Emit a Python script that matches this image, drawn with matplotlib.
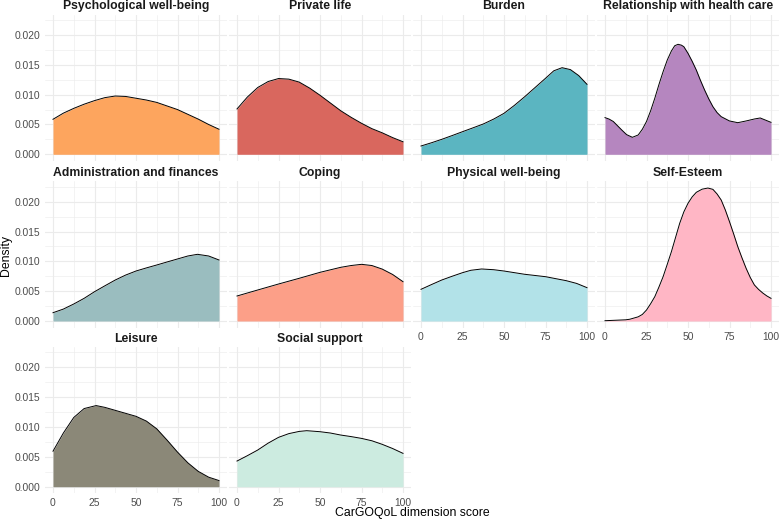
import numpy as np
import matplotlib
matplotlib.use("Agg")
import matplotlib.pyplot as plt
from matplotlib.ticker import FormatStrFormatter

plt.rcParams['font.family'] = ['Liberation Sans', 'DejaVu Sans']

# density curves (x = score, y = density)
psych_x = [0, 6.25, 12.5, 18.75, 25, 31.25, 37.5, 43.75, 50, 56.25, 62.5, 68.75, 75, 81.25, 87.5, 93.75, 100]
psych_y = [0.00587, 0.0069, 0.0077, 0.0084, 0.0090, 0.0095, 0.00977, 0.0097, 0.0094, 0.0091, 0.0087,
           0.0081, 0.0075, 0.0067, 0.0059, 0.0050, 0.0042]

private_x = [0, 6.25, 12.5, 18.75, 25, 31.25, 37.5, 43.75, 50, 56.25, 62.5, 68.75, 75, 81.25, 87.5, 93.75, 100]
private_y = [0.0076, 0.0096, 0.0112, 0.0122, 0.0127, 0.0126, 0.0121, 0.0111, 0.0099, 0.0086, 0.0073,
             0.0062, 0.0052, 0.0043, 0.0036, 0.0028, 0.0021]

burden_x = [0, 6.25, 12.5, 18.75, 25, 31.25, 37.5, 43.75, 50, 56.25, 62.5, 68.75, 75, 80, 85, 90, 95, 100]
burden_y = [0.00139, 0.00193, 0.00251, 0.00314, 0.00379, 0.00443, 0.00508, 0.0059, 0.00687, 0.0082,
            0.00966, 0.0112, 0.01274, 0.0140, 0.01452, 0.0142, 0.0132, 0.01173]

relation_x = [0, 2.5, 5, 7.5, 10, 13, 16.5, 20, 22.5, 25, 27.5, 30, 32.5, 35, 37.5, 40, 42, 44, 46, 47.5,
              50, 52.5, 55, 57.5, 60, 62.5, 65, 67.5, 70, 75, 80, 85, 90, 93.5, 100]
relation_y = [0.00615, 0.0059, 0.0055, 0.0048, 0.0041, 0.0033, 0.00285, 0.00324, 0.0042, 0.0055, 0.0073,
              0.0094, 0.0117, 0.01385, 0.0158, 0.01732, 0.0182, 0.01844, 0.0183, 0.01804,
              0.01693, 0.0156, 0.01413, 0.0124, 0.01078, 0.0093, 0.00799, 0.0070, 0.00631, 0.00559,
              0.0053, 0.00559, 0.00592, 0.00609, 0.00536]

admin_x = [0, 6.25, 12.5, 18.75, 25, 31.25, 37.5, 43.75, 50, 56.25, 62.5, 68.75, 75, 81.25, 87, 93.75, 100]
admin_y = [0.00139, 0.0020, 0.00285, 0.0038, 0.00491, 0.0059, 0.00687, 0.0077, 0.00838, 0.0089, 0.00939,
           0.0099, 0.0104, 0.0109, 0.01118, 0.0109, 0.01023]

coping_x = [0, 12.5, 25, 37.5, 50, 62.5, 68.75, 75, 81.25, 87.5, 93.75, 100]
coping_y = [0.00419, 0.0052, 0.0062, 0.00716, 0.00816, 0.009, 0.0093, 0.0095, 0.0093, 0.0087, 0.0078, 0.00659]

physical_x = [0, 6.25, 12.5, 18.75, 25, 30, 36.5, 43.75, 50, 62.5, 75, 87.5, 93.75, 100]
physical_y = [0.00531, 0.0061, 0.00687, 0.0075, 0.0081, 0.0085, 0.00872, 0.0086, 0.00838, 0.00783,
              0.00743, 0.00676, 0.0063, 0.00559]

esteem_x = [0, 12.5, 15, 20, 22.5, 25, 27.5, 30, 32.5, 35, 37.5, 40, 42.5, 45, 47.5, 50, 52.5, 55, 58.5,
            62, 65, 67.5, 70, 72.5, 75, 77.5, 80, 82.5, 85, 87.5, 90, 92.5, 95, 97.5, 100]
esteem_y = [0.00005, 0.0002, 0.0003, 0.0007, 0.0011, 0.00184, 0.0029, 0.00408, 0.0057, 0.00743, 0.0095,
            0.01162, 0.0140, 0.01638, 0.0183, 0.01973, 0.0208, 0.02157, 0.0221,
            0.02229, 0.02207, 0.0213, 0.02028, 0.0186, 0.01665, 0.0146, 0.01246, 0.0106, 0.00884,
            0.0073, 0.00604, 0.0053, 0.0047, 0.0042, 0.0038]

leisure_x = [0, 6.25, 12.5, 18.75, 26, 31.25, 37.5, 43.75, 50, 56.25, 62.5, 68.75, 75, 81.25, 87.5, 93.75, 100]
leisure_y = [0.00595, 0.0090, 0.0116, 0.0131, 0.0136, 0.0133, 0.0128, 0.0123, 0.0118, 0.0110, 0.0097,
             0.0078, 0.0058, 0.0040, 0.00257, 0.0016, 0.00103]

social_x = [0, 6.25, 12.5, 18.75, 25, 31.25, 37.5, 42, 50, 56.25, 62.5, 68.75, 75, 81.25, 87.5, 93.75, 100]
social_y = [0.0043, 0.0052, 0.00615, 0.0073, 0.00827, 0.0089, 0.00927, 0.00939, 0.00922, 0.0090, 0.00866,
            0.0084, 0.0081, 0.0077, 0.0071, 0.0064, 0.00559]

titles = ["Psychological well-being", "Private life", "Burden", "Relationship with health care",
          "Administration and finances", "Coping", "Physical well-being", "Self-Esteem",
          "Leisure", "Social support"]
colors = ["#FDA55E", "#D9675E", "#5BB5C1", "#B586BF",
          "#9ABDBF", "#FC9F88", "#B2E2E8", "#FFB6C5",
          "#8B8878", "#CCEBE0"]
curves = [(psych_x, psych_y), (private_x, private_y), (burden_x, burden_y), (relation_x, relation_y),
          (admin_x, admin_y), (coping_x, coping_y), (physical_x, physical_y), (esteem_x, esteem_y),
          (leisure_x, leisure_y), (social_x, social_y)]

W, H = 780, 521
fig = plt.figure(figsize=(W / 100, H / 100), dpi=100)

ymax = max(max(c[1]) for c in curves)
ylo, yhi = -0.05 * ymax, 1.05 * ymax
px_per_unit = 119.3 / 0.02
ax_h = (yhi - ylo) * px_per_unit
zero_rows = [154.3, 321.0, 486.7]
grid_col = "#EBEBEB"

for i, (title, col, (xs, ys)) in enumerate(zip(titles, colors, curves)):
    r, c = divmod(i, 4)
    left = 44.7 + 184 * c
    bottom = zero_rows[r] - ylo * px_per_unit
    ax = fig.add_axes([left / W, 1 - bottom / H, 182.6 / W, ax_h / H])
    ax.set_xlim(-5, 105)
    ax.set_ylim(ylo, yhi)
    for s in ax.spines.values():
        s.set_visible(False)
    ax.set_xticks([0, 25, 50, 75, 100])
    ax.set_xticks([12.5, 37.5, 62.5, 87.5], minor=True)
    ax.set_yticks([0, 0.005, 0.01, 0.015, 0.02])
    ax.set_yticks([0.0025, 0.0075, 0.0125, 0.0175, 0.0225], minor=True)
    ax.yaxis.set_major_formatter(FormatStrFormatter('%.3f'))
    ax.grid(True, which='major', color=grid_col, lw=0.8)
    ax.grid(True, which='minor', color=grid_col, lw=0.4)
    ax.set_axisbelow(True)
    ax.tick_params(which='both', length=0, labelsize=7.4, labelcolor="#4D4D4D", pad=3)

    ax.fill_between(xs, 0, ys, color=col, lw=0, zorder=2)
    ax.plot(xs, ys, color="black", lw=0.7, zorder=3, solid_joinstyle='round')

    ax.text(0.5, 1 + 5.4 / ax_h, title, transform=ax.transAxes, ha='center', va='baseline',
            fontsize=8.8, fontweight='bold', color="#1A1A1A")

    if c != 0:
        ax.tick_params(axis='y', labelleft=False)
    bottom_row = 2 if c < 2 else 1
    if r != bottom_row:
        ax.tick_params(axis='x', labelbottom=False)

fig.text(412 / W, 1 - 513 / H, "CarGOQoL dimension score", ha='center', va='center', fontsize=8.8)
fig.text(6 / W, 1 - 256 / H, "Density", ha='center', va='center', rotation=90, fontsize=8.8)

fig.savefig("out.png", dpi=100)
